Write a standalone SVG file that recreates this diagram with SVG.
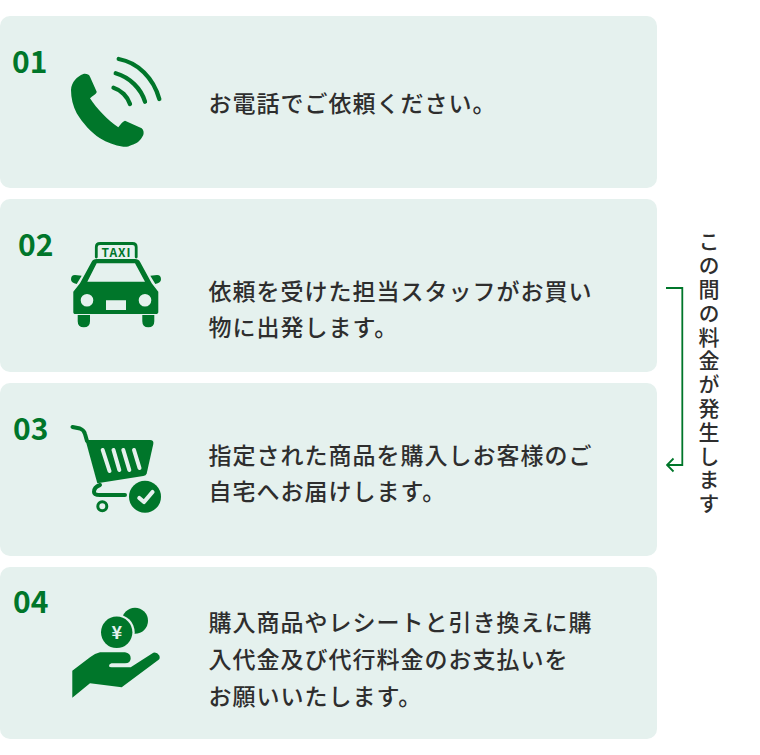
<svg xmlns="http://www.w3.org/2000/svg" width="760" height="755" viewBox="0 0 760 755">
<style>
.card{fill:#e5f1ee}
.num{font-family:"Noto Sans CJK JP","Noto Sans",sans-serif;font-weight:700;font-size:30px;fill:#00762a}
.t{font-family:"Noto Sans CJK JP","Noto Sans",sans-serif;font-weight:500;font-size:23px;letter-spacing:1px;fill:#2e2e2e}
.v{font-family:"Noto Sans CJK JP","Noto Sans",sans-serif;font-weight:500;font-size:21px;letter-spacing:2.800px;fill:#2e2e2e;writing-mode:vertical-rl}
.g{fill:#00762a}
.s{fill:none;stroke:#00762a;stroke-linecap:round;stroke-linejoin:round}
.b{fill:none;stroke:#e5f1ee;stroke-linecap:round;stroke-linejoin:round}
</style>
<defs>
<marker id="head" viewBox="0 0 10 16" refX="8.500" refY="8" markerWidth="10" markerHeight="16" markerUnits="userSpaceOnUse" orient="auto">
<path d="M2 1.500L8.500 8L2 14.500" fill="none" stroke="#00762a" stroke-width="1.800"/>
</marker>
</defs>
<g id="step-01">
<rect class="card" x="0" y="16" width="657" height="172" rx="10"/>
<text class="num" x="12" y="73">01</text>
<path class="g" d="M71 90C71.500 82 77 76.500 83.300 74C86.500 73.500 89 74.500 90 76.700L96.700 91.700C96.500 94.500 92.500 95.500 90 98.300C97 109 107 119.500 118.300 127.300C120.500 124.500 122.500 121.500 125 120.700L141.700 128.300C143.800 130 144 133 143.300 135C140.500 141 136 144 131.700 145C128.500 146.700 126 147 123.300 146.700C114.500 145.500 107 142.500 100 138.300C91 132.500 83 123.500 76.700 113.300C73 106 71 98 71 90Z"/>
<path class="s" stroke-width="4.300" d="M113.500 87.700C121 90 127.500 96.500 130 104M115.700 73.300C130 77.500 141 88.500 145 101.700M118.700 59C138 62.500 153.500 78 159.300 99"/>
<text class="t" x="208.500" y="112">お電話でご依頼ください。</text>
</g>
<g id="step-02">
<rect class="card" x="0" y="199" width="657" height="173" rx="10"/>
<text class="num" x="18" y="256">02</text>
<path class="s" stroke-width="2.800" d="M96.300 257V247Q96.300 243.500 100 243.500H132.500Q136.200 243.500 136.200 247V257"/>
<text x="116.500" y="256.500" text-anchor="middle" font-family="Noto Sans CJK JP,Noto Sans,sans-serif" font-weight="700" font-size="12px" letter-spacing="1px" fill="#00762a">TAXI</text>
<path class="g" fill-rule="evenodd" d="M96.700 259H135C137.500 259 139 260 140 261.700L151.700 283.300L158.300 291.700V312C158.300 313.500 157.300 314 156 314H75.300C74 314 73.300 313.500 73.300 312V291.700L80 283.300L91.700 261.700C92.700 260 94.200 259 96.700 259ZM96.700 263.300L87.300 281.700H145L135 263.300ZM93.300 300.300A6.300 6.300 0 1 0 80.700 300.300A6.300 6.300 0 1 0 93.300 300.300ZM151.300 300.300A6.300 6.300 0 1 0 138.700 300.300A6.300 6.300 0 1 0 151.300 300.300ZM106 300.300V310H126V300.300Z"/>
<path class="g" d="M71 279.300Q71 275 75 275L81.700 275.700L76.700 284Q71 283 71 279.300ZM161 279.300Q161 275 157 275L150.300 275.700L155.300 284Q161 283 161 279.300ZM77.700 315H90V321.300Q90 327.300 83.800 327.300Q77.700 327.300 77.700 321.300ZM142.300 315H154.300V321.300Q154.300 327.300 148.300 327.300Q142.300 327.300 142.300 321.300Z"/>
<text class="t" x="208.500" y="299.500">依頼を受けた担当スタッフがお買い</text>
<text class="t" x="208.500" y="336">物に出発します。</text>
</g>
<g id="step-03">
<rect class="card" x="0" y="383" width="657" height="173" rx="10"/>
<text class="num" x="13" y="440">03</text>
<path class="s" stroke-width="4" d="M72.500 427L80 428.500Q84 430 85 434L87 441"/>
<path class="g" d="M85.500 440H150Q154 440 153.300 444L146.700 473.500Q146 475.500 143.300 476L97.300 483.300Z"/>
<path class="b" stroke-width="4" d="M102.700 450L109.500 471M113.500 450L119.300 470M123.300 450L129.300 470M134 450L139.500 468"/>
<path class="s" stroke-width="4" d="M100 485Q94 487 94 492Q94 495 100 495H125"/>
<circle cx="102.300" cy="506.300" r="4.500" fill="none" stroke="#00762a" stroke-width="3"/>
<circle class="g" cx="145" cy="496.700" r="16"/>
<path class="b" stroke-width="4.200" d="M139.300 498L144 502L152.500 492"/>
<text class="t" x="208.500" y="463.500">指定された商品を購入しお客様のご</text>
<text class="t" x="208.500" y="500">自宅へお届けします。</text>
</g>
<g id="step-04">
<rect class="card" x="0" y="567" width="657" height="172" rx="10"/>
<text class="num" x="13" y="613">04</text>
<circle class="g" cx="135" cy="620.700" r="13"/>
<circle class="card" cx="116.700" cy="632.300" r="18"/>
<circle class="g" cx="116.700" cy="632.300" r="15.700"/>
<text x="116.700" y="638.500" text-anchor="middle" font-family="Noto Sans CJK JP,Noto Sans,sans-serif" font-weight="700" font-size="18px" fill="#e5f1ee">¥</text>
<path class="g" d="M72.300 670.700L90 657.300Q95 653.500 100 652.300H125Q130.700 653.500 130.700 658.300Q130.700 663.300 125 663.300H111.500Q109 664 109 666Q109 667.300 111.700 667.300H130.700L153.300 652.700Q157 651.800 159.300 655.500Q160.500 658.500 158.300 660L121.700 687.300L90 683.300L72.300 697.700Z"/>
<text class="t" x="208.500" y="631">購入商品やレシートと引き換えに購</text>
<text class="t" x="208.500" y="668">入代金及び代行料金のお支払いを</text>
<text class="t" x="208.500" y="705">お願いいたします。</text>
</g>
<g id="connectors">
<path d="M666 288H682.300V465H667" fill="none" stroke="#00762a" stroke-width="1.800" marker-end="url(#head)"/>
</g>
<g id="note">
<text class="v" x="709" y="231">この間の料金が発生します</text>
</g>
</svg>
